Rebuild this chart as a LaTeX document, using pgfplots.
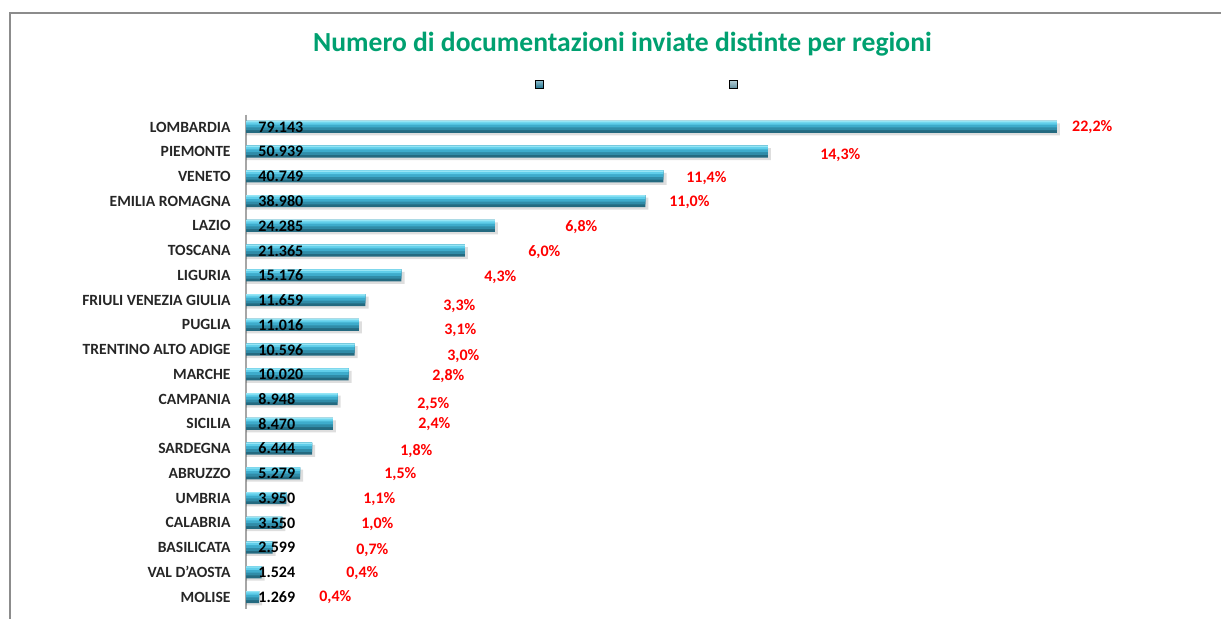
\documentclass[border=0pt]{standalone}
\usepackage{pgfplots}
\usepackage{pgfplotstable}
\pgfplotsset{compat=1.18}
\usepackage{fontspec}
\setmainfont{Carlito}
\definecolor{titlegreen}{RGB}{0,160,112}
\definecolor{bandA}{RGB}{36,106,128}
\definecolor{bandB}{RGB}{48,140,168}
\definecolor{bandC}{RGB}{62,172,204}
\definecolor{bandD}{RGB}{96,206,234}
\definecolor{bandE}{RGB}{150,230,246}
\definecolor{framegray}{RGB}{140,140,140}
\definecolor{legA}{RGB}{40,130,160}
\definecolor{legB}{RGB}{110,160,176}

\pgfplotstableread[col sep=semicolon]{
idx;name;val;lbl;px;py;pct
0;LOMBARDIA;79143;79.143;80609;0.02;22,2\%
1;PIEMONTE;50939;50.939;56016;1.12;14,3\%
2;VENETO;40749;40.749;42940;2.06;11,4\%
3;EMILIA ROMAGNA;38980;38.980;41280;3.04;11,0\%
4;LAZIO;24285;24.285;31131;4.04;6,8\%
5;TOSCANA;21365;21.365;27520;5.04;6,0\%
6;LIGURIA;15176;15.176;23226;6.07;4,3\%
7;FRIULI VENEZIA GIULIA;11659;11.659;19225;7.24;3,3\%
8;PUGLIA;11016;11.016;19323;8.20;3,1\%
9;TRENTINO ALTO ADIGE;10596;10.596;19615;9.27;3,0\%
10;MARCHE;10020;10.020;18152;10.07;2,8\%
11;CAMPANIA;8948;8.948;16688;11.19;2,5\%
12;SICILIA;8470;8.470;16785;12.00;2,4\%
13;SARDEGNA;6444;6.444;15029;13.09;1,8\%
14;ABRUZZO;5279;5.279;13467;14.04;1,5\%
15;UMBRIA;3950;3.950;11418;15.05;1,1\%
16;CALABRIA;3550;3.550;11223;16.04;1,0\%
17;BASILICATA;2599;2.599;10735;17.12;0,7\%
18;VAL D'AOSTA;1524;1.524;9759;18.04;0,4\%
19;MOLISE;1269;1.269;7124;19.00;0,4\%
}\data

\begin{document}
\begin{tikzpicture}
\path[use as bounding box] (0,0) rectangle (610.5pt,-309.5pt);
\draw[framegray, line width=1pt] (5pt,-310pt) -- (5pt,-6.5pt) -- (611pt,-6.5pt);
\node[text=titlegreen, font=\fontsize{13.8pt}{16pt}\selectfont\bfseries] at (311.25pt,-22pt) {Numero di documentazioni inviate distinte per regioni};
\begin{axis}[
  at={(123pt,-57.3pt)}, anchor=north west,
  scale only axis, width=461pt, height=247.4pt,
  xmin=0, xmax=90000, ymin=-0.5, ymax=19.5,
  y dir=reverse,
  axis x line=none,
  axis y line*=left,
  y axis line style={draw=gray!70, line width=0.6pt},
  xtick=\empty,
  ytick={0,...,19},
  yticklabels from table={\data}{name},
  ytick style={draw=none},
  yticklabel style={font=\fontsize{7.8pt}{9pt}\selectfont\bfseries, text=black!85, inner sep=0pt, anchor=east, xshift=-7.5pt},
  clip=false,
  legend style={draw=none, fill=none, legend columns=2, inner sep=0pt, outer sep=0pt, nodes={inner sep=0pt}, at={(0.3134,1.0618)}, anchor=west},
  legend cell align=left,
  /tikz/every even column/.append style={column sep=91.5pt},
  band/.style={xbar, draw=none, forget plot},
]
\addlegendimage{legend image code/.code={\fill[top color=legA!50, bottom color=legA!90!black] (0pt,-2pt) rectangle (4pt,2pt);}}
\addlegendentry{}
\addlegendimage{legend image code/.code={\fill[top color=legB!50, bottom color=legB!90!black] (0pt,-2pt) rectangle (4pt,2pt);}}
\addlegendentry{}
% shadow
\addplot[band, bar width=6pt, bar shift=-1.2pt, fill=black, opacity=0.13]
  table[x expr=\thisrow{val}+300, y=idx] {\data};
% bars built from stacked bands (dark bottom to light top)
\addplot[band, bar width=6pt, bar shift=0pt, fill=bandA] table[x=val, y=idx] {\data};
\addplot[band, bar width=4.6pt, bar shift=0.7pt, fill=bandB] table[x=val, y=idx] {\data};
\addplot[band, bar width=3.2pt, bar shift=1.4pt, fill=bandC] table[x=val, y=idx] {\data};
\addplot[band, bar width=1.8pt, bar shift=2.1pt, fill=bandD] table[x=val, y=idx] {\data};
\addplot[band, bar width=0.7pt, bar shift=2.65pt, fill=bandE] table[x=val, y=idx] {\data};
% value labels
\addplot[draw=none, mark=none, forget plot, nodes near coords, point meta=explicit symbolic,
  nodes near coords style={anchor=west, inner sep=0pt, xshift=6pt, text=black, font=\fontsize{8pt}{9pt}\selectfont\bfseries}]
  table[x expr=0, y=idx, meta=lbl] {\data};
% percentage labels
\addplot[draw=none, mark=none, forget plot, nodes near coords, point meta=explicit symbolic,
  nodes near coords style={anchor=west, inner sep=0pt, text=red, font=\fontsize{8pt}{9pt}\selectfont\bfseries}]
  table[x=px, y=py, meta=pct] {\data};
\end{axis}
\end{tikzpicture}
\end{document}
